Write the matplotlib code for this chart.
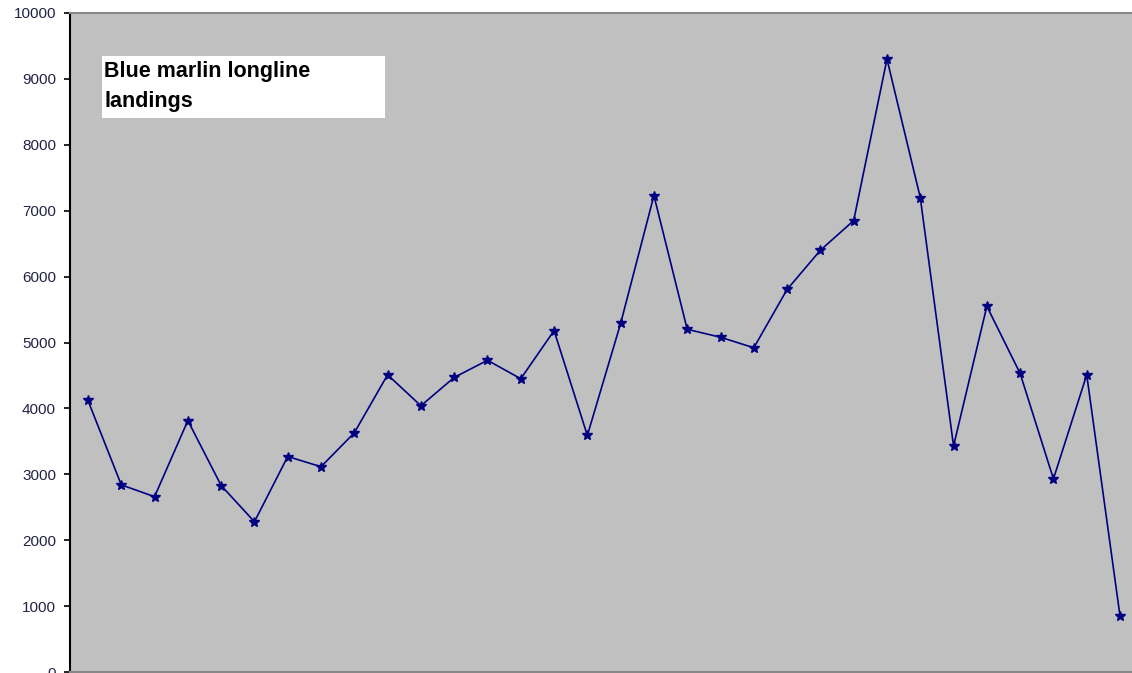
"""Blue marlin longline landings line chart."""

import matplotlib
matplotlib.use("Agg")
import matplotlib.pyplot as plt
from matplotlib.patches import Rectangle

# Landings per year (year labels not shown in the source chart)
years = list(range(1, 33))
landings = [
    4120, 2840, 2660, 3815, 2830, 2280, 3270, 3115, 3630, 4510,
    4040, 4470, 4730, 4450, 5180, 3590, 5290, 7230, 5200, 5080,
    4920, 5805, 6400, 6850, 9300, 7200, 3430, 5550, 4530, 2930,
    4510, 850,
]
y_ticks = list(range(0, 10001, 1000))
title_lines = ["Blue marlin longline", "landings"]

plt.rcParams["font.family"] = ["Liberation Sans", "DejaVu Sans"]

W, H = 1132, 673
fig = plt.figure(figsize=(W / 100, H / 100), dpi=100)
ax = fig.add_axes([70 / W, 1 / H, 1 - 70 / W, 659 / H])
ax.set_facecolor("#c0c0c0")

x = list(range(len(years)))
ax.plot(x, landings, color="#000080", linewidth=1.2,
        marker="*", markersize=7, markerfacecolor="#000080",
        markeredgecolor="#000080")

ax.set_xlim(-0.54, 31.36)
ax.set_ylim(0, 10000)
ax.set_yticks(y_ticks)
ax.set_yticklabels([str(v) for v in y_ticks], fontsize=11, color="#222244")
ax.set_xticks([])
ax.tick_params(axis="y", direction="out", length=4, width=1.2, pad=6)

ax.spines["left"].set_color("black")
ax.spines["left"].set_linewidth(1.5)
for side in ("top", "bottom"):
    ax.spines[side].set_color("#888888")
    ax.spines[side].set_linewidth(1.5)
ax.spines["right"].set_visible(False)

# white title box, drawn in figure pixels
fig.patches.append(Rectangle((102 / W, 1 - 118 / H), 283 / W, 62 / H,
                             transform=fig.transFigure, facecolor="white",
                             edgecolor="none", zorder=3))
for i, line in enumerate(title_lines):
    fig.text(104 / W, 1 - (72 + 29 * i) / H, line, fontsize=15.5,
             fontweight="bold", va="center", ha="left", zorder=4)

fig.savefig("out.png", dpi=100)
